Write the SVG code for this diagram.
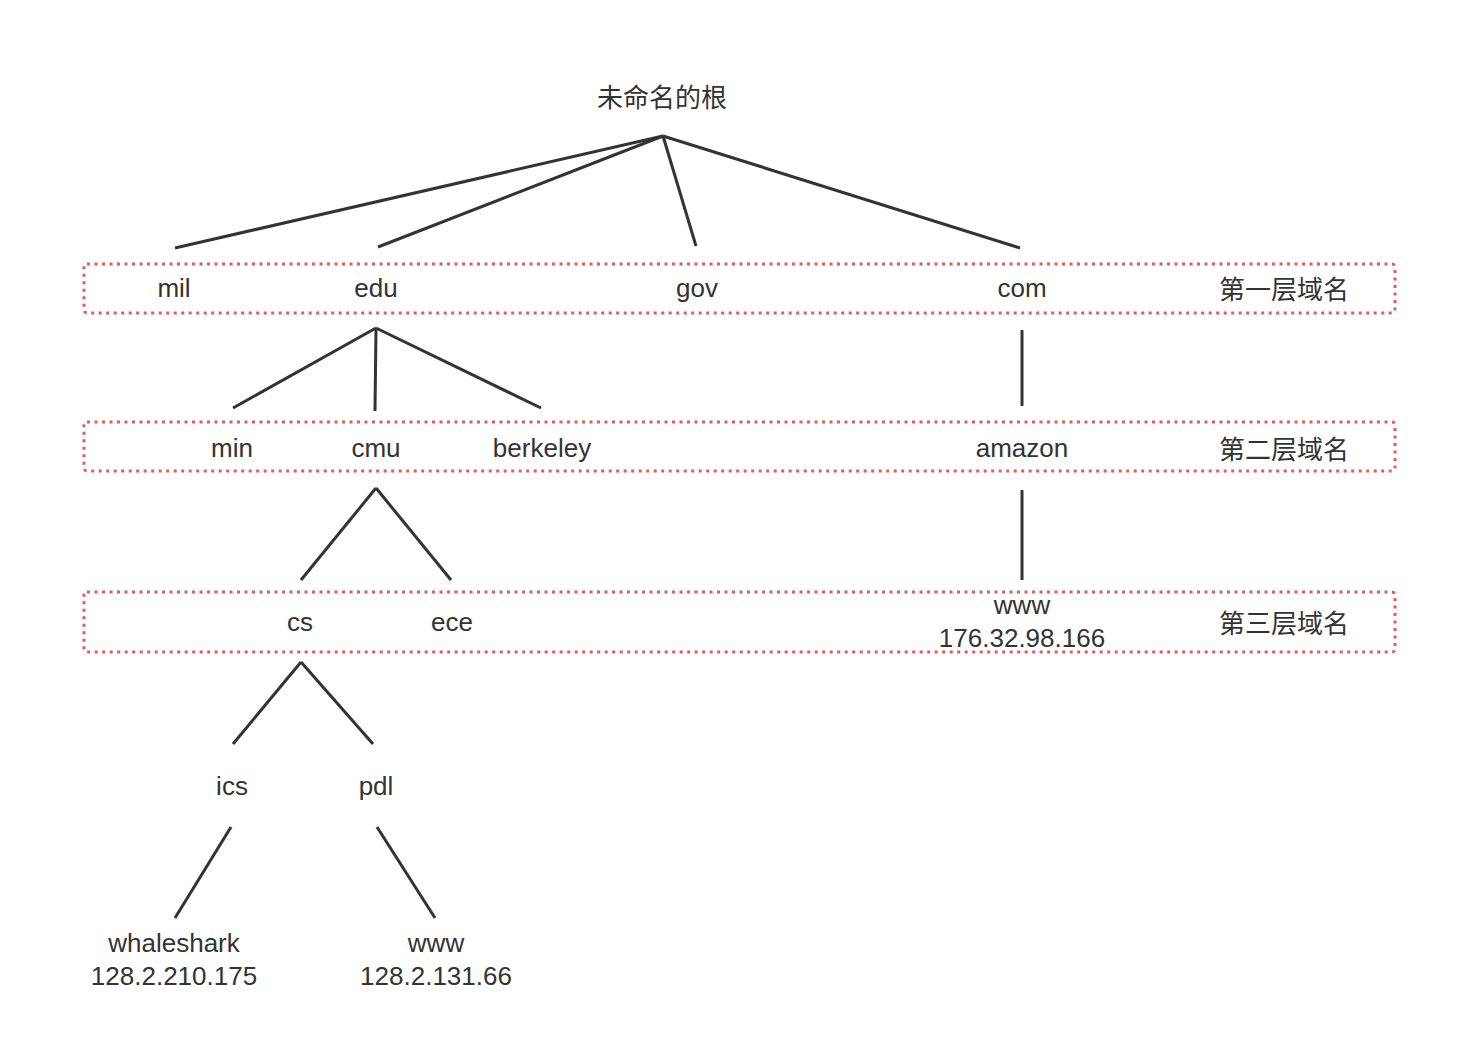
<svg xmlns="http://www.w3.org/2000/svg" width="1472" height="1058" viewBox="0 0 1472 1058">
<style>
.t{font-family:"Liberation Sans","Noto Sans CJK SC",sans-serif;font-size:26px;fill:#333;text-anchor:middle;dominant-baseline:central}
.c{font-family:"Noto Sans CJK SC","Liberation Sans",sans-serif;font-size:26px;fill:#333;text-anchor:middle;dominant-baseline:central}
.box{fill:none;stroke:#e85a5a;stroke-width:3;stroke-dasharray:3 4.5}
.ln{stroke:#333;stroke-width:3;fill:none}
</style>
<rect width="1472" height="1058" fill="#fff"/>
<g id="levels">
<rect id="level1" class="box" x="84" y="264" width="1311" height="49" rx="3"/>
<rect id="level2" class="box" x="84" y="422" width="1311" height="49" rx="3"/>
<rect id="level3" class="box" x="84" y="592" width="1311" height="60" rx="3"/>
</g>
<g id="connectors">
<line class="ln" x1="663" y1="136" x2="175" y2="248"/>
<line class="ln" x1="663" y1="136" x2="378" y2="247"/>
<line class="ln" x1="663" y1="136" x2="696" y2="246"/>
<line class="ln" x1="663" y1="136" x2="1020" y2="248"/>
<line class="ln" x1="376" y1="328" x2="233" y2="408"/>
<line class="ln" x1="376" y1="328" x2="375" y2="411"/>
<line class="ln" x1="376" y1="328" x2="541" y2="408"/>
<line class="ln" x1="1022" y1="330" x2="1022" y2="406"/>
<line class="ln" x1="1022" y1="490" x2="1022" y2="580"/>
<line class="ln" x1="376" y1="488" x2="301" y2="580"/>
<line class="ln" x1="376" y1="488" x2="451" y2="580"/>
<line class="ln" x1="301" y1="662" x2="233" y2="744"/>
<line class="ln" x1="301" y1="662" x2="373" y2="744"/>
<line class="ln" x1="231" y1="827" x2="175" y2="918"/>
<line class="ln" x1="377" y1="827" x2="435" y2="918"/>
</g>
<g id="root"><text class="c" x="662" y="95">未命名的根</text></g>
<g id="mil"><text class="t" x="174" y="288">mil</text></g>
<g id="edu"><text class="t" x="376" y="288">edu</text></g>
<g id="gov"><text class="t" x="697" y="288">gov</text></g>
<g id="com"><text class="t" x="1022" y="288">com</text></g>
<g id="label1"><text class="c" x="1284" y="287">第一层域名</text></g>
<g id="min"><text class="t" x="232" y="448">min</text></g>
<g id="cmu"><text class="t" x="376" y="448">cmu</text></g>
<g id="berkeley"><text class="t" x="542" y="448">berkeley</text></g>
<g id="amazon"><text class="t" x="1022" y="448">amazon</text></g>
<g id="label2"><text class="c" x="1284" y="447">第二层域名</text></g>
<g id="cs"><text class="t" x="300" y="622">cs</text></g>
<g id="ece"><text class="t" x="452" y="622">ece</text></g>
<g id="www-amazon"><text class="t" x="1022" y="605">www</text><text class="t" x="1022" y="638">176.32.98.166</text></g>
<g id="label3"><text class="c" x="1284" y="621">第三层域名</text></g>
<g id="ics"><text class="t" x="232" y="786">ics</text></g>
<g id="pdl"><text class="t" x="376" y="786">pdl</text></g>
<g id="whaleshark"><text class="t" x="174" y="943">whaleshark</text><text class="t" x="174" y="976">128.2.210.175</text></g>
<g id="www-pdl"><text class="t" x="436" y="943">www</text><text class="t" x="436" y="976">128.2.131.66</text></g>
</svg>
